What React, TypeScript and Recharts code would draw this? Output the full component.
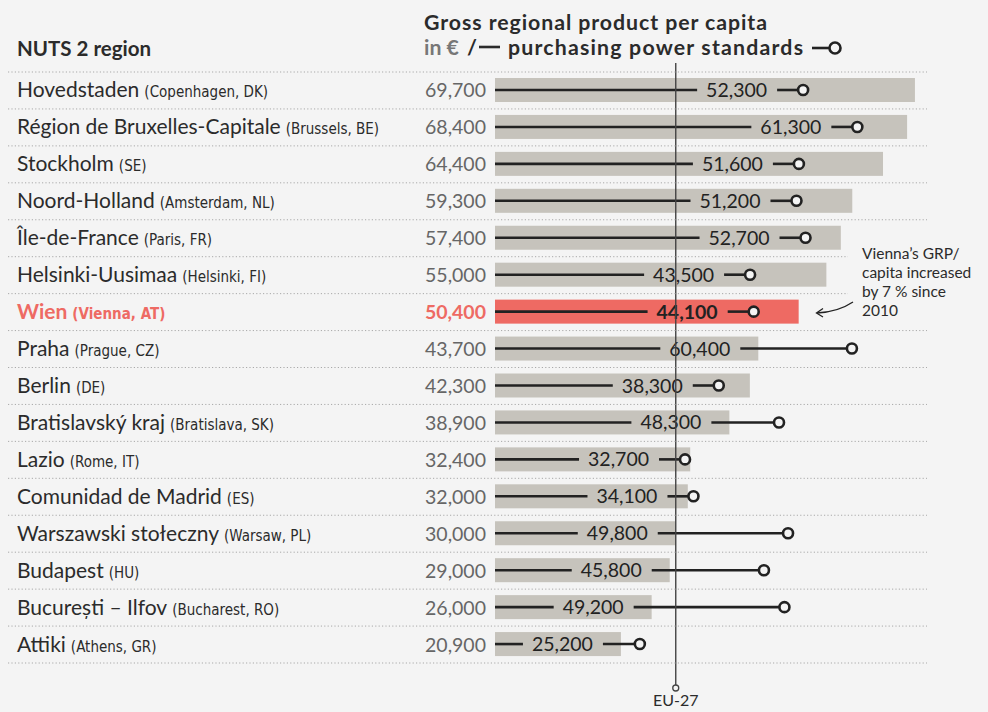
import { ComposedChart, Bar, XAxis, YAxis, ReferenceLine, Customized } from 'recharts';

const regions = [
  'Hovedstaden', 'Région de Bruxelles-Capitale', 'Stockholm', 'Noord-Holland', 'Île-de-France',
  'Helsinki-Uusimaa', 'Wien', 'Praha', 'Berlin', 'Bratislavský kraj', 'Lazio',
  'Comunidad de Madrid', 'Warszawski stołeczny', 'Budapest', 'București – Ilfov', 'Attiki',
];
const cities = [
  'Copenhagen, DK', 'Brussels, BE', 'SE', 'Amsterdam, NL', 'Paris, FR', 'Helsinki, FI', 'Vienna, AT',
  'Prague, CZ', 'DE', 'Bratislava, SK', 'Rome, IT', 'ES', 'Warsaw, PL', 'HU', 'Bucharest, RO', 'Athens, GR',
];
// GRP per capita in €
const eurValues = [69700, 68400, 64400, 59300, 57400, 55000, 50400, 43700, 42300, 38900, 32400, 32000, 30000, 29000, 26000, 20900];
// GRP per capita in purchasing power standards
const ppsValues = [52300, 61300, 51600, 51200, 52700, 43500, 44100, 60400, 38300, 48300, 32700, 34100, 49800, 45800, 49200, 25200];
const highlight = 'Wien';
const euAverage = 30000;

const FONT = 'Lato, "Open Sans", sans-serif';
const NARROW = '"Liberation Sans Narrow", "DejaVu Sans Condensed", Roboto, sans-serif';
const C = {
  bg: '#f4f4f4',
  bar: '#c6c3bc',
  red: '#ee6a63',
  text: '#2b2b2b',
  value: '#666666',
  dots: '#a9a9a9',
  ink: '#222222',
};

const W = 988;
const H = 712;
const BAND = 591 / regions.length;

const data = regions.map((region, i) => ({
  region,
  city: cities[i],
  eur: eurValues[i],
  pps: ppsValues[i],
}));

const fmt = (v: number) => v.toLocaleString('en-US');

let ctx: CanvasRenderingContext2D | null = null;
function measure(s: string, font: string) {
  if (!ctx) ctx = document.createElement('canvas').getContext('2d');
  if (!ctx) return s.length * 10;
  ctx.font = font;
  return ctx.measureText(s).width;
}

function RegionTick(props: any) {
  const { y, index } = props;
  const d = data[index];
  const hi = d.region === highlight;
  const top = y - BAND / 2;
  // the two rows next to the annotation get a shorter rule
  const ruleEnd = index === 5 || index === 6 ? 848 : 927;
  return (
    <g>
      <line x1={8} x2={ruleEnd} y1={top} y2={top} stroke={C.dots} strokeDasharray="1.2 2.2" />
      {index === data.length - 1 && (
        <line x1={8} x2={927} y1={top + BAND} y2={top + BAND} stroke={C.dots} strokeDasharray="1.2 2.2" />
      )}
      <text x={17} y={y + 7} fontFamily={FONT} fontSize={21} fill={hi ? C.red : C.text} fontWeight={hi ? 700 : 400}>
        {d.region}
        <tspan fontFamily={NARROW} fontSize={15} dx={5}>({d.city})</tspan>
      </text>
      <text x={486} y={y + 7} textAnchor="end" fontFamily={FONT} fontSize={19.5}
        fill={hi ? C.red : C.value} fontWeight={hi ? 700 : 400}>
        {fmt(d.eur)}
      </text>
    </g>
  );
}

function EurBar(props: any) {
  const { x, y, width, height, payload } = props;
  return <rect x={x} y={y} width={width} height={height} fill={payload.region === highlight ? C.red : C.bar} />;
}

function PpsMark(props: any) {
  const { x, y, width, height, payload } = props;
  const k = width / payload.pps;
  const cx = x + width - 7;
  const barEnd = x + payload.eur * k;
  const cy = y + height / 2;
  const bold = payload.region === highlight;
  const label = fmt(payload.pps);
  const w = measure(label, `${bold ? 700 : 400} 19.5px Lato`);
  const right = Math.min(cx - 36, barEnd - 28);
  const left = right - w;
  return (
    <g>
      <line x1={x} x2={left - 9} y1={cy} y2={cy} stroke={C.ink} strokeWidth={2.6} />
      <text x={right} y={cy + 7} textAnchor="end" fontFamily={FONT} fontSize={19.5}
        fontWeight={bold ? 700 : 400} fill={C.ink}>
        {label}
      </text>
      <line x1={right + 10} x2={cx - 5} y1={cy} y2={cy} stroke={C.ink} strokeWidth={2.6} />
      <circle cx={cx} cy={cy} r={5} fill={C.bg} stroke={C.ink} strokeWidth={2.6} />
    </g>
  );
}

function EuLine(props: any) {
  const { x1, y1, y2 } = props;
  const top = Math.min(y1, y2);
  const bottom = Math.max(y1, y2);
  return (
    <g>
      <line x1={x1} x2={x1} y1={top - 9} y2={bottom + 22} stroke="#444" strokeWidth={1.4} />
      <circle cx={x1} cy={bottom + 25} r={3} fill={C.bg} stroke="#444" strokeWidth={1.3} />
      <text x={x1} y={bottom + 43} textAnchor="middle" fontFamily={FONT} fontSize={16} fill={C.text}>EU-27</text>
    </g>
  );
}

function Header() {
  return (
    <g fontFamily={FONT} fontWeight={700} fill={C.text}>
      <text x={17} y={56} fontSize={20.5}>NUTS 2 region</text>
      <text x={424} y={30} fontSize={21.3} textLength={343} lengthAdjust="spacing">
        Gross regional product per capita
      </text>
      <text x={424} y={55} fontSize={21.3} fill="#777">in €</text>
      <text x={467} y={55} fontSize={21.3}>/</text>
      <line x1={479} x2={500} y1={47} y2={47} stroke={C.text} strokeWidth={2.6} />
      <text x={508} y={55} fontSize={21.3} textLength={295} lengthAdjust="spacing">
        purchasing power standards
      </text>
      <line x1={812} x2={830} y1={48} y2={48} stroke={C.ink} strokeWidth={2.6} />
      <circle cx={835} cy={48} r={5.5} fill={C.bg} stroke={C.ink} strokeWidth={2.6} />
      <g fontWeight={400} fontSize={15.5}>
        <text x={862} y={259}>Vienna’s GRP/</text>
        <text x={862} y={278}>capita increased</text>
        <text x={862} y={297}>by 7 % since</text>
        <text x={862} y={316}>2010</text>
      </g>
      <path d="M853,302 Q838,312 817,313" fill="none" stroke={C.ink} strokeWidth={1.3} />
      <path d="M823,308.5 L816.5,313 L823,317" fill="none" stroke={C.ink} strokeWidth={1.3} />
    </g>
  );
}

export default function App() {
  return (
    <div style={{ position: 'absolute', left: 0, top: 0, width: W, height: H, background: C.bg }}>
      <ComposedChart
        width={W}
        height={H}
        data={data}
        layout="vertical"
        margin={{ top: 72, right: 11, bottom: 49, left: 0 }}
      >
        <XAxis type="number" domain={[0, 80000]} hide />
        <YAxis
          type="category"
          dataKey="region"
          width={495}
          interval={0}
          tickLine={false}
          axisLine={false}
          tick={<RegionTick />}
        />
        <YAxis yAxisId="pps" type="category" dataKey="region" hide />
        <Bar dataKey="eur" barSize={24} isAnimationActive={false} shape={<EurBar />} />
        <ReferenceLine x={euAverage} shape={<EuLine />} ifOverflow="visible" />
        <Bar yAxisId="pps" dataKey="pps" barSize={24} isAnimationActive={false} shape={<PpsMark />} />
        <Customized component={Header} />
      </ComposedChart>
    </div>
  );
}
